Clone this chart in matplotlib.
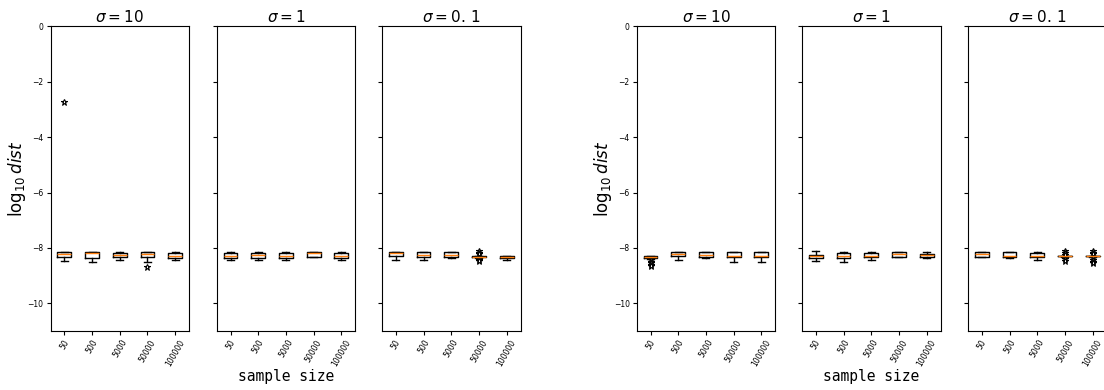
import matplotlib
matplotlib.use("Agg")
import matplotlib.pyplot as plt

sizes = ["50", "500", "5000", "50000", "100000"]
titles = [r"$\sigma = 10$", r"$\sigma = 1$", r"$\sigma = 0.\,1$"]

# each panel: lists of (whislo, q1, med, q3, whishi) per sample size, plus fliers
# left group
p1_stats = [(-8.47, -8.32, -8.22, -8.16, -8.13), (-8.50, -8.35, -8.17, -8.15, -8.15),
            (-8.42, -8.32, -8.25, -8.17, -8.15), (-8.50, -8.33, -8.22, -8.15, -8.15),
            (-8.42, -8.35, -8.28, -8.18, -8.15)]
p1_fliers = [[-2.73], [], [], [-8.68], []]
p2_stats = [(-8.45, -8.35, -8.30, -8.18, -8.15), (-8.42, -8.35, -8.27, -8.20, -8.15),
            (-8.42, -8.35, -8.30, -8.18, -8.15), (-8.33, -8.32, -8.17, -8.15, -8.15),
            (-8.42, -8.35, -8.28, -8.18, -8.15)]
p2_fliers = [[], [], [], [], []]
p3_stats = [(-8.45, -8.29, -8.20, -8.16, -8.15), (-8.42, -8.33, -8.25, -8.15, -8.15),
            (-8.38, -8.33, -8.25, -8.15, -8.15), (-8.36, -8.34, -8.32, -8.30, -8.28),
            (-8.42, -8.37, -8.33, -8.30, -8.30)]
p3_fliers = [[], [], [], [-8.12, -8.18, -8.22, -8.42, -8.47], []]
# right group
p4_stats = [(-8.40, -8.36, -8.33, -8.30, -8.28), (-8.42, -8.30, -8.22, -8.15, -8.15),
            (-8.38, -8.32, -8.25, -8.15, -8.15), (-8.50, -8.33, -8.28, -8.15, -8.15),
            (-8.50, -8.33, -8.28, -8.15, -8.15)]
p4_fliers = [[-8.45, -8.50, -8.55, -8.60, -8.65], [], [], [], []]
p5_stats = [(-8.47, -8.35, -8.30, -8.25, -8.12), (-8.52, -8.35, -8.28, -8.18, -8.15),
            (-8.42, -8.33, -8.30, -8.18, -8.15), (-8.33, -8.32, -8.22, -8.15, -8.15),
            (-8.35, -8.32, -8.27, -8.22, -8.15)]
p5_fliers = [[], [], [], [], []]
p6_stats = [(-8.33, -8.32, -8.22, -8.15, -8.15), (-8.38, -8.33, -8.30, -8.15, -8.15),
            (-8.42, -8.33, -8.30, -8.17, -8.15), (-8.33, -8.31, -8.30, -8.29, -8.28),
            (-8.33, -8.31, -8.30, -8.29, -8.28)]
p6_fliers = [[], [], [], [-8.12, -8.18, -8.25, -8.40, -8.47],
             [-8.12, -8.17, -8.22, -8.38, -8.43, -8.50, -8.55]]

panels = [(p1_stats, p1_fliers), (p2_stats, p2_fliers), (p3_stats, p3_fliers),
          (p4_stats, p4_fliers), (p5_stats, p5_fliers), (p6_stats, p6_fliers)]

W, H = 1104, 390
fig = plt.figure(figsize=(W / 100, H / 100), dpi=100)

lefts = [50.5, 216.7, 382.0, 636.7, 802.0, 968.0]
width = 138.5
top, bottom = 26.3, 331.0

axes = []
for i, (stats, fliers) in enumerate(panels):
    ax = fig.add_axes([lefts[i] / W, 1 - bottom / H, width / W, (bottom - top) / H])
    bstats = []
    for (lo, q1, med, q3, hi), fl in zip(stats, fliers):
        bstats.append(dict(whislo=lo, q1=q1, med=med, q3=q3, whishi=hi, fliers=fl))
    ax.bxp(bstats, positions=range(1, len(sizes) + 1), widths=0.5,
           flierprops=dict(marker='*', markerfacecolor='white', markeredgecolor='black',
                           markersize=5, markeredgewidth=0.8),
           medianprops=dict(color='#ff7f0e'))
    ax.set_xticks(range(1, len(sizes) + 1))
    ax.set_xticklabels(sizes, rotation=60, fontsize=5.5)
    ax.set_ylim(-11, 0)
    ax.set_xlim(0.5, 5.5)
    ax.set_yticks([0, -2, -4, -6, -8, -10])
    ax.tick_params(axis='both', labelsize=5.5, length=3, pad=2)
    if i % 3 == 0:
        ax.set_ylabel(r"$\log_{10} dist$", fontsize=12)
        ax.yaxis.set_label_coords(-22.5 / width, 0.5)
    else:
        ax.set_yticklabels([])
    if i % 3 == 1:
        ax.set_xlabel("sample size", fontsize=10.5, family="DejaVu Sans Mono")
        ax.xaxis.set_label_coords(0.5, -(369 - bottom) / (bottom - top))
    ax.set_title(titles[i % 3], fontsize=11, pad=3)
    axes.append(ax)

fig.savefig("out.png", dpi=100)
